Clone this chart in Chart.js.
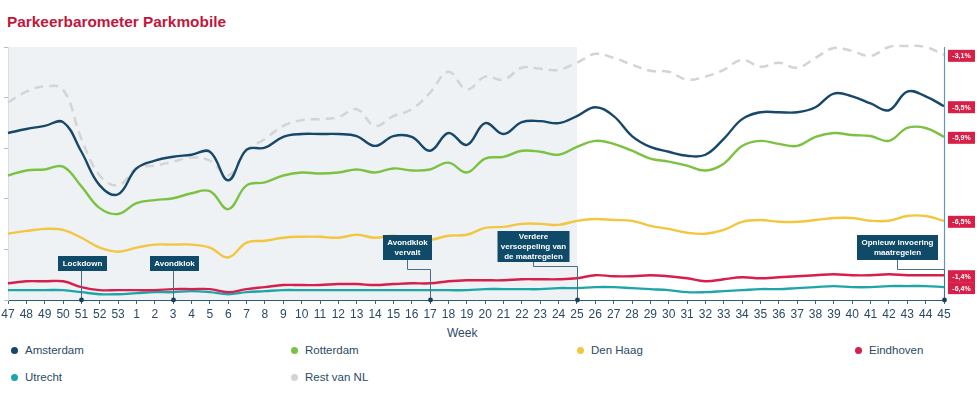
<!DOCTYPE html>
<html>
<head>
<meta charset="utf-8">
<script src="https://cdn.jsdelivr.net/npm/chart.js@4.4.1/dist/chart.umd.min.js"></script>
<style>
  html, body { margin: 0; padding: 0; background: #ffffff; }
  body { width: 980px; height: 398px; position: relative; overflow: hidden; font-family: "Liberation Sans", Arial, sans-serif; }
  #title { position: absolute; left: 7px; top: 13px; font-size: 15.4px; font-weight: bold; color: #c0173c; white-space: nowrap; }
  #wrap { position: absolute; left: 0; top: 0; width: 980px; height: 326px; }
  #xtitle { position: absolute; left: 447px; top: 326px; font-size: 12px; line-height: 14px; color: #2b4a66; }
  .lg { position: absolute; font-size: 11.5px; color: #2b4a66; white-space: nowrap; line-height: 14px; }
  .lg i { position: absolute; width: 7px; height: 7px; border-radius: 50%; left: -14px; top: 3.5px; }
</style>
</head>
<body>
<div id="title">Parkeerbarometer Parkmobile</div>
<div id="wrap"><canvas id="c" width="980" height="326"></canvas></div>
<div id="xtitle">Week</div>
<div id="legend"></div>
<script>
// ---- data ----
const weeks = ['47','48','49','50','51','52','53','1','2','3','4','5','6','7','8','9','10','11','12','13','14','15','16','17','18','19','20','21','22','23','24','25','26','27','28','29','30','31','32','33','34','35','36','37','38','39','40','41','42','43','44','45'];
const seriesNames = ['Amsterdam','Rotterdam','Den Haag','Eindhoven','Utrecht','Rest van NL'];
const amsterdam = [66.0,67.6,68.8,70.3,58.6,45.3,41.8, 52.0,55.1,56.6,57.4,58.6,47.3,59.4,60.2,64.5,65.6,65.6, 65.6,64.8,60.9,64.8,64.5,59.0,66.0,61.3,69.9,65.6,70.3,70.7,69.9,72.7,76.2,72.7,64.8, 60.5,58.6,57.0,57.4,63.7,71.5,74.2,74.2,74.2,76.2,81.6,80.5,77.7,75.0,82.4,80.5,76.6];
const rotterdam = [49.2,51.2,51.6,52.7,44.9,36.3,34.0, 38.3,39.5,40.2,42.2,43.0,35.9,45.3,46.5,49.2,50.4,50.0, 50.4,51.6,50.4,52.0,51.2,51.6,54.3,50.4,55.9,56.6,59.0,58.6,57.4,60.5,62.9,61.7,59.0, 55.9,54.7,53.1,51.2,53.9,60.9,62.9,61.7,60.9,64.5,66.0,65.2,64.8,62.9,68.0,68.0,64.5];
const denHaag = [26.2,27.3,28.1,27.7,24.6,20.7,19.1, 20.7,21.9,21.9,21.9,20.7,16.8,22.7,23.4,24.6,25.0,25.0, 24.6,25.8,24.6,25.4,24.2,23.8,25.4,25.8,28.5,28.9,30.1,30.1,29.7,31.3,32.0,31.6,31.3, 29.3,28.1,26.6,26.2,27.7,30.9,31.6,30.9,30.9,31.6,32.4,32.4,31.3,31.3,33.2,33.2,31.3];
const eindhoven = [6.6,7.4,7.4,7.4,5.1,3.9,3.9, 3.9,3.9,4.3,4.3,4.3,3.1,4.3,5.1,5.9,5.9,5.9, 6.3,6.3,5.9,6.3,6.6,6.6,7.4,7.8,7.8,7.8,8.2,8.2,8.2,8.6,9.8,9.4,9.4, 9.8,9.4,8.6,7.4,8.2,9.0,8.6,9.0,9.4,9.8,10.2,9.8,9.8,10.2,9.8,9.8,9.8];
const utrecht = [3.9,3.9,3.9,3.9,3.1,2.3,2.3, 2.7,3.1,3.1,3.5,3.1,2.3,3.1,3.5,3.9,3.9,3.9, 3.9,3.9,3.9,3.9,3.9,3.9,3.9,3.9,4.3,4.3,4.3,4.3,4.7,4.7,5.1,5.1,4.7, 4.3,3.9,3.1,3.1,3.5,3.9,4.3,4.3,4.7,5.1,5.5,5.1,5.1,5.5,5.5,5.5,5.1];
const restVanNL = [78.1,82.4,84.4,83.2,63.7,49.2,45.3, 52.0,53.1,54.7,56.3,55.1,49.2,59.0,63.7,68.8,71.1,71.5, 72.3,75.4,68.8,72.7,75.4,82.0,90.2,83.2,88.3,87.1,91.8,91.4,91.0,93.8,97.3,95.7,93.0, 90.6,90.2,87.1,88.3,91.0,94.9,92.2,93.8,91.8,95.7,99.6,98.4,96.5,100.0,100.4,100.0,96.9];
const endLabels = ['-5,5%','-5,9%','-6,5%','-1,4%','-6,4%','-3,1%'];
const shadedUntilWeek = '25';
const annotationWeeks = ['51','3','17','25','45'];
const annotationTexts = [['Lockdown'],['Avondklok'],['Avondklok','vervalt'],['Verdere','versoepeling van','de maatregelen'],['Opnieuw invoering','maatregelen']];

// ---- styles ----
const colors = ['#17486a','#7cc242','#f3c63f','#d61f4c','#1ea5a8','#d4d4d4'];
const annStyle = [
  {dx:0, w:49, h:15, gap:29, elbow:0},
  {dx:0, w:49, h:15, gap:29, elbow:0},
  {dx:-24, w:49, h:25, gap:40, elbow:31},
  {dx:-45, w:72, h:31, gap:38, elbow:34},
  {dx:-48, w:81, h:25, gap:40, elbow:31}
];

const seriesData = [amsterdam, rotterdam, denHaag, eindhoven, utrecht, restVanNL];

const datasets = seriesNames.map((n, i) => ({
  label: n,
  data: seriesData[i],
  borderColor: colors[i],
  backgroundColor: colors[i],
  borderWidth: i === 5 ? 2.5 : 2.4,
  borderDash: i === 5 ? [9, 6] : [],
  pointRadius: 0,
  tension: 0.4,
  fill: false,
  clip: false,
  order: i === 5 ? 10 : i
}));

const overlay = {
  id: 'overlay',
  beforeDatasetsDraw(chart) {
    const {ctx, chartArea: a, scales: {x}} = chart;
    const x1 = x.getPixelForValue(weeks.indexOf(shadedUntilWeek));
    ctx.save();
    ctx.fillStyle = '#eef2f5';
    ctx.fillRect(a.left + 0.5, a.top, x1 - a.left - 0.5, a.bottom - a.top);
    ctx.restore();
  },
  afterDatasetsDraw(chart) {
    const {ctx, chartArea: a, scales: {x, y}} = chart;
    ctx.save();
    // right axis line
    ctx.strokeStyle = '#5f98b5';
    ctx.lineWidth = 1.2;
    ctx.beginPath();
    ctx.moveTo(a.right + 0.5, a.top);
    ctx.lineTo(a.right + 0.5, a.bottom);
    ctx.stroke();

    // annotations
    annotationWeeks.forEach((wk, k) => {
      const st = annStyle[k];
      const tx = Math.round(x.getPixelForValue(weeks.indexOf(wk))) + 0.5;
      const cx = Math.round(tx + st.dx) + 0.5;
      const bBottom = a.bottom - st.gap;
      const bTop = bBottom - st.h;
      ctx.strokeStyle = '#4d6c82';
      ctx.lineWidth = 1;
      ctx.beginPath();
      if (st.dx === 0) {
        ctx.moveTo(tx, bBottom);
        ctx.lineTo(tx, a.bottom);
      } else {
        const ey = a.bottom - st.elbow + 0.5;
        ctx.moveTo(cx, bBottom);
        ctx.lineTo(cx, ey);
        ctx.lineTo(tx, ey);
        ctx.lineTo(tx, a.bottom);
      }
      ctx.stroke();
      ctx.fillStyle = '#0f4a69';
      ctx.fillRect(cx - st.w / 2, bTop, st.w, st.h);
      ctx.fillStyle = '#ffffff';
      ctx.font = 'bold 8px "Liberation Sans", Arial, sans-serif';
      ctx.textAlign = 'center';
      ctx.textBaseline = 'middle';
      const lines = annotationTexts[k];
      const lh = 10;
      const startY = (bTop + bBottom) / 2 - (lines.length - 1) * lh / 2;
      lines.forEach((t, j) => ctx.fillText(t, cx, startY + j * lh));
      ctx.fillStyle = '#163f5a';
      ctx.beginPath();
      ctx.arc(tx, a.bottom, 2.4, 0, Math.PI * 2);
      ctx.fill();
    });

    // end labels
    seriesData.forEach((d, i) => {
      const yy = y.getPixelForValue(d[d.length - 1]) + 1;
      const bx = a.right + 4;
      ctx.fillStyle = '#d81f47';
      ctx.fillRect(bx, yy - 6, 27, 12);
      ctx.fillStyle = '#ffffff';
      ctx.font = 'bold 7px "Liberation Sans", Arial, sans-serif';
      ctx.textAlign = 'center';
      ctx.textBaseline = 'middle';
      ctx.fillText(endLabels[i], bx + 13.5, yy + 0.5);
    });
    ctx.restore();
  }
};

new Chart(document.getElementById('c'), {
  type: 'line',
  data: { labels: weeks, datasets },
  options: {
    responsive: false,
    animation: false,
    events: [],
    layout: { padding: { top: 47, right: 36, left: 0, bottom: 1.6 } },
    plugins: { legend: { display: false }, tooltip: { enabled: false }, title: { display: false } },
    scales: {
      x: {
        type: 'category',
        offset: false,
        grid: { display: true, drawOnChartArea: false, tickLength: 4, tickColor: '#3d6480', color: '#3d6480' },
        border: { display: true, color: '#2f5a78', width: 1 },
        ticks: { autoSkip: false, maxRotation: 0, minRotation: 0, padding: 3, color: '#2b4a66', font: { family: '"Liberation Sans", Arial, sans-serif', size: 12 } },
        title: { display: false },
        afterFit: s => { s.paddingLeft = 0; s.paddingRight = 0; }
      },
      y: {
        min: 0, max: 100,
        ticks: { display: false, stepSize: 20 },
        grid: { display: true, drawOnChartArea: false, tickLength: 4, tickColor: '#b3bec8', color: '#b3bec8' },
        border: { display: true, color: '#c4cdd5', width: 1 },
        afterFit: s => { s.width = 8; }
      }
    }
  },
  plugins: [overlay]
});

// HTML legend
const legendPos = [[25,343],[305,343],[591,343],[869,343],[25,370],[305,370]];
const lg = document.getElementById('legend');
seriesNames.forEach((n, i) => {
  const d = document.createElement('div');
  d.className = 'lg';
  d.style.left = legendPos[i][0] + 'px';
  d.style.top = legendPos[i][1] + 'px';
  const dot = document.createElement('i');
  dot.style.background = colors[i];
  d.appendChild(dot);
  d.appendChild(document.createTextNode(n));
  lg.appendChild(d);
});
</script>
</body>
</html>
